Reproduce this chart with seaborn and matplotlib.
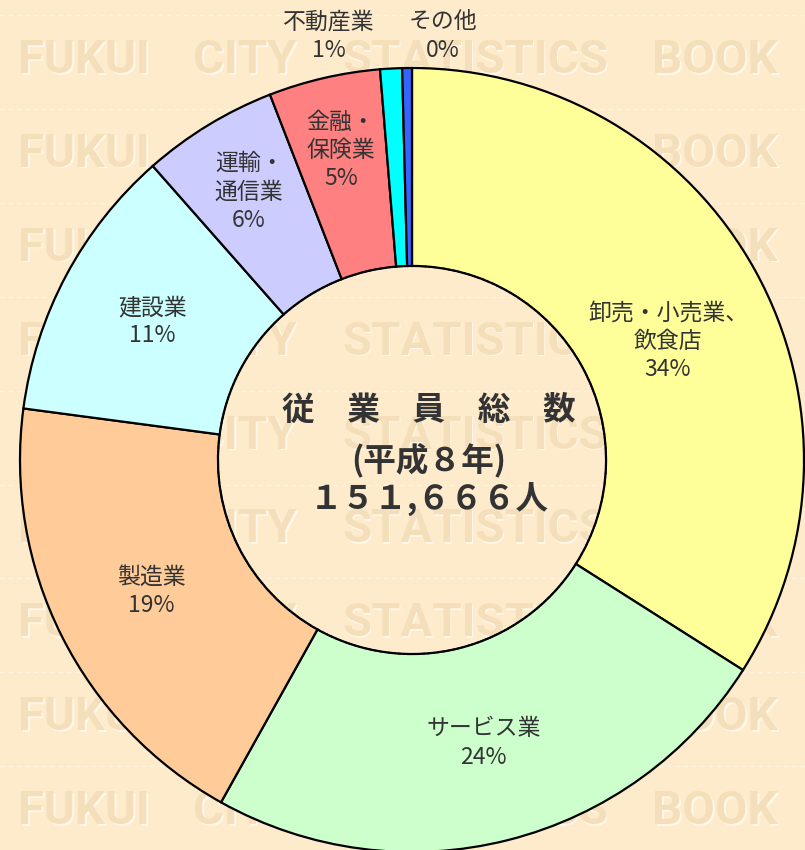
import numpy as np
import matplotlib
matplotlib.use("Agg")
import matplotlib.pyplot as plt
import seaborn as sns

categories = ["卸売・小売業、\n飲食店", "サービス業", "製造業", "建設業",
              "運輸・\n通信業", "金融・\n保険業", "不動産業", "その他"]
values = [34.0, 24.1, 19.0, 11.4, 5.6, 4.6, 0.9, 0.4]
pct_labels = ["34%", "24%", "19%", "11%", "6%", "5%", "1%", "0%"]
colors = ["#FFFF99", "#CCFFCC", "#FFCC99", "#CCFFFF",
          "#CCCCFF", "#FF8080", "#00FFFF", "#3366FF"]
center_lines = ["従　業　員　総　数", "(平成８年)", "１５１,６６６人"]
watermark_words = ["FUKUI", "CITY", "STATISTICS", "BOOK"]

sns.set_theme(style="white")
plt.rcParams['font.family'] = ['Noto Sans CJK JP', 'DejaVu Sans']

BG = "#FDEBCB"
fig = plt.figure(figsize=(8.05, 8.5), dpi=100, facecolor=BG)
ax = fig.add_axes([0, 0, 1, 1])
ax.set_facecolor(BG)

W, H = 805, 850
# embossed watermark rows
word_x = [84, 245, 475, 715]
for k in range(9):
    yc = H - (60 + k * 93.9)
    for wd, wx in zip(watermark_words, word_x):
        ax.text(wx + 1.5, yc - 1.5, wd, ha="center", va="center", fontsize=34,
                family="Roboto", fontweight="bold", color="#FFF7EA", zorder=0)
        ax.text(wx, yc, wd, ha="center", va="center", fontsize=34,
                family="Roboto", fontweight="bold", color="#F5DFBB", zorder=0)
    ax.plot([0, W], [yc + 45, yc + 45], ls=(0, (3, 3)), color="#FFF4E2", lw=1, zorder=0)

cx, cy, R = 412, H - 460, 392
wedges, _ = ax.pie(values, colors=colors, startangle=90, counterclock=False,
                   center=(cx, cy), radius=R,
                   wedgeprops=dict(width=R * 0.505, edgecolor="black", linewidth=1.6))
ax.add_patch(plt.Circle((cx, cy), R * 0.495, fill=False, ec="black", lw=1.2,
                        ls=(0, (2, 1)), zorder=5))

fracs = [0.72, 0.745, 0.745, 0.75, 0.80, 0.81]
dang = [-3.9, 0.0, 0.0, 0.0, 0.0, 0.0]
for i, w in enumerate(wedges[:6]):
    mid = np.deg2rad((w.theta1 + w.theta2) / 2 + dang[i])
    x = cx + R * fracs[i] * np.cos(mid)
    y = cy + R * fracs[i] * np.sin(mid)
    ax.text(x, y, categories[i] + "\n" + pct_labels[i], ha="center", va="center",
            fontsize=16.5, color="#333333", linespacing=1.3)

# small slices labelled above the ring
for i, xx in zip([6, 7], [329, 443]):
    ax.text(xx, H - 36, categories[i] + "\n" + pct_labels[i], ha="center", va="center",
            fontsize=16.5, color="#333333", linespacing=1.3)

for t, yy in zip(center_lines, [410, 460, 500]):
    ax.text(cx + 17, H - yy, t, ha="center", va="center", fontsize=23.5,
            fontweight="bold", color="#333333")

ax.set_xlim(0, W)
ax.set_ylim(0, H)
ax.set_aspect("equal")
ax.axis("off")
fig.savefig("out.png", dpi=100, facecolor=BG)
